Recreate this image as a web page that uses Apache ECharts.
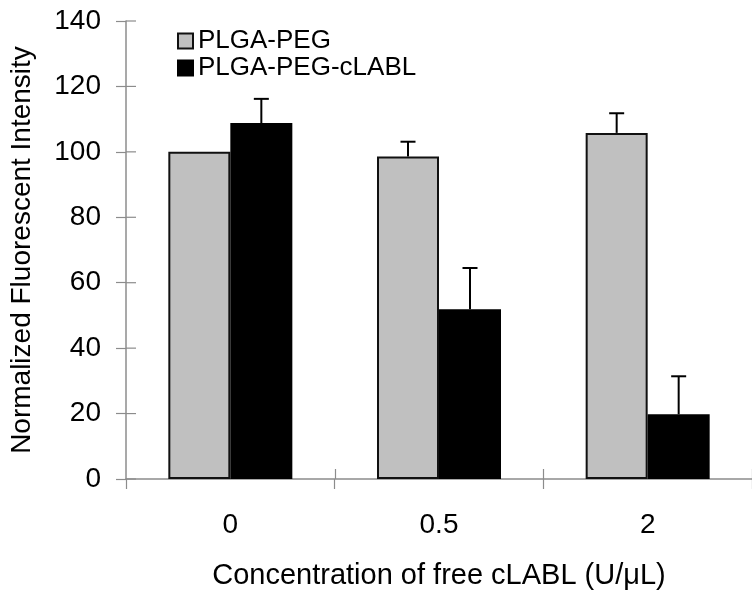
<!DOCTYPE html>
<html>
<head>
<meta charset="utf-8">
<script src="https://cdn.jsdelivr.net/npm/echarts@6/dist/echarts.min.js"></script>
<style>html,body{margin:0;padding:0;background:#fff}#c{width:752px;height:595px}</style>
</head>
<body>
<div id="c"></div>
<script>
var categories = ['0', '0.5', '2'];
var plgaPeg = [100, 98.6, 105.8];
var plgaPegErr = [0, 4.5, 6.0];
var cLabl = [108.8, 51.9, 19.8];
var cLablErr = [7.4, 12.6, 11.6];
var yTicks = [0, 20, 40, 60, 80, 100, 120, 140];

var FONT = '"Liberation Sans", Arial, Helvetica, sans-serif';
var BAR_W = 62;
var AX = '#8c8c8c';

function errData(vals, errs) {
  return vals.map(function (v, i) { return [i, v, errs[i]]; });
}
function errRender(sign) {
  return function (params, api) {
    var i = api.value(0), v = api.value(1), e = api.value(2);
    if (!e) return null;
    var base = api.coord([i, v]);
    var top = api.coord([i, v + e]);
    var x = base[0] + sign * BAR_W / 2;
    var st = { stroke: '#000', lineWidth: 2 };
    return {
      type: 'group',
      children: [
        { type: 'line', shape: { x1: x, y1: base[1], x2: x, y2: top[1] }, style: st },
        { type: 'line', shape: { x1: x - 7.5, y1: top[1], x2: x + 7.5, y2: top[1] }, style: st }
      ]
    };
  };
}
// inner halves of the crossing tick marks, placed by the axes' scales
function yInnerTick(params, api) {
  var p = api.coord([0, api.value(1)]);
  var x0 = params.coordSys.x;
  return { type: 'line', shape: { x1: x0, y1: p[1], x2: x0 + 10, y2: p[1] },
    style: { stroke: AX, lineWidth: 1.2 } };
}
function xInnerTick(params, api) {
  var p = api.coord([api.value(0), 0]);
  var bw = api.size([1, 0])[0];
  var x = Math.round(p[0] + bw / 2) + 0.5;
  return { type: 'line', shape: { x1: x, y1: p[1], x2: x, y2: p[1] - 10 },
    style: { stroke: AX, lineWidth: 1.2 } };
}

var chart = echarts.init(document.getElementById('c'), null, { renderer: 'canvas' });
chart.setOption({
  animation: false,
  backgroundColor: '#fff',
  textStyle: { fontFamily: FONT },
  grid: { left: 125, right: -4, top: 21, bottom: 113, containLabel: false },
  legend: {
    orient: 'vertical', left: 172, top: 23, itemWidth: 15, itemHeight: 15, itemGap: 1,
    icon: 'rect',
    textStyle: { fontFamily: FONT, fontSize: 26, color: '#000' },
    data: ['PLGA-PEG', 'PLGA-PEG-cLABL']
  },
  xAxis: {
    type: 'category', data: categories,
    axisLine: { lineStyle: { color: AX, width: 1.5 } },
    axisTick: { show: true, length: 10, lineStyle: { color: AX, width: 1.2 } },
    splitLine: { show: false },
    axisLabel: { fontFamily: FONT, fontSize: 28, color: '#000', margin: 32 },
    name: 'Concentration of free cLABL (U/\u03bcL)', nameLocation: 'middle', nameGap: 82,
    nameTextStyle: { fontFamily: FONT, fontSize: 29, color: '#000' }
  },
  yAxis: {
    type: 'value', min: 0, max: 140, interval: 20,
    splitLine: { show: false },
    axisLine: { show: true, lineStyle: { color: AX, width: 1.5 } },
    axisTick: { show: true, length: 10, lineStyle: { color: AX, width: 1.2 } },
    axisLabel: { fontFamily: FONT, fontSize: 28, color: '#000', margin: 25,
      formatter: function (v) { return yTicks.indexOf(v) >= 0 ? String(v) : ''; } },
    name: 'Normalized Fluorescent Intensity', nameLocation: 'middle', nameGap: 90,
    nameTextStyle: { fontFamily: FONT, fontSize: 28, color: '#000' }
  },
  series: [{
    name: 'PLGA-PEG', type: 'bar', data: plgaPeg, barWidth: BAR_W, barGap: '0%',
    itemStyle: { color: '#c0c0c0', borderColor: '#111', borderWidth: 2 }
  }, {
    name: 'PLGA-PEG-cLABL', type: 'bar', data: cLabl, barWidth: BAR_W, barGap: '0%',
    itemStyle: { color: '#000', borderColor: '#000', borderWidth: 2 }
  }, {
    type: 'custom', data: errData(plgaPeg, plgaPegErr), renderItem: errRender(-1),
    encode: { x: 0, y: 1 }, z: 3, silent: true, clip: false
  }, {
    type: 'custom', data: errData(cLabl, cLablErr), renderItem: errRender(1),
    encode: { x: 0, y: 1 }, z: 3, silent: true, clip: false
  }, {
    type: 'custom', data: yTicks.map(function (v) { return [0, v]; }), renderItem: yInnerTick,
    encode: { x: 0, y: 1 }, z: 1, silent: true, clip: false
  }, {
    type: 'custom', data: categories.map(function (c, i) { return [i, 0]; }), renderItem: xInnerTick,
    encode: { x: 0, y: 1 }, z: 1, silent: true, clip: false
  }]
});
</script>
</body>
</html>
